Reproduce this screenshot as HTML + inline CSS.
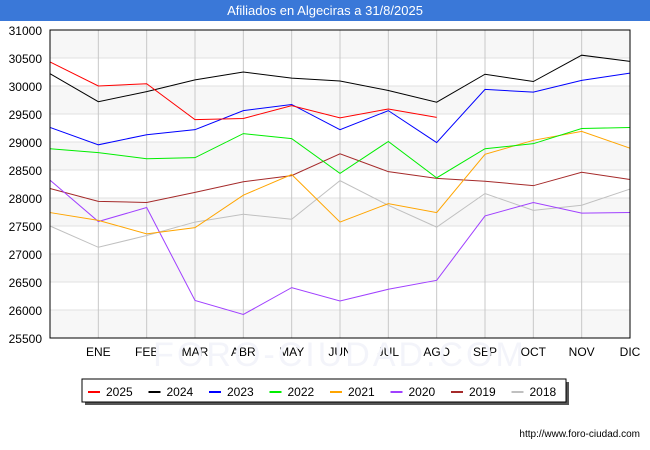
<!DOCTYPE html>
<html><head><meta charset="utf-8"><style>
body{margin:0;background:#fff;font-family:"Liberation Sans",sans-serif;}
#wrap{position:relative;width:650px;height:450px;overflow:hidden;background:#fff;}
</style></head><body>
<div id="wrap">
<svg id="svg" width="650" height="450" xmlns="http://www.w3.org/2000/svg"></svg>
</div>
<script>
const categories=["","ENE","FEB","MAR","ABR","MAY","JUN","JUL","AGO","SEP","OCT","NOV","DIC"];
const yTicks=[25500,26000,26500,27000,27500,28000,28500,29000,29500,30000,30500,31000];
const seriesNames=["2025","2024","2023","2022","2021","2020","2019","2018"];
const seriesColors=["#ff0000","#000000","#0000ff","#00ee00","#ffa500","#a040ff","#a52a2a","#c0c0c0"];
const s2025=[30430,30000,30040,29400,29420,29650,29430,29590,29440];
const s2024=[30220,29720,29900,30110,30250,30140,30090,29920,29710,30210,30080,30550,30440];
const s2023=[29260,28950,29130,29220,29560,29670,29220,29560,28990,29940,29890,30100,30230];
const s2022=[28880,28810,28700,28720,29150,29060,28440,29010,28360,28880,28970,29240,29260];
const s2021=[27740,27600,27360,27470,28050,28420,27570,27900,27740,28780,29030,29190,28890];
const s2020=[28320,27580,27830,26170,25920,26400,26160,26370,26530,27680,27920,27730,27740];
const s2019=[28170,27940,27920,28100,28290,28400,28790,28470,28350,28300,28220,28460,28330];
const s2018=[27500,27120,27330,27570,27710,27620,28310,27870,27480,28080,27780,27870,28160];
const allSeries=[s2025,s2024,s2023,s2022,s2021,s2020,s2019,s2018];
const L=50,R=630,T=30,B=338,yMin=25500,yMax=31000;
const xs=i=>L+i*(R-L)/(categories.length-1);
const ys=v=>B-(v-yMin)/(yMax-yMin)*(B-T);
const svg=document.getElementById('svg');const NS="http://www.w3.org/2000/svg";
function mk(t,a,p){const e=document.createElementNS(NS,t);for(const k in a)e.setAttribute(k,a[k]);(p||svg).appendChild(e);return e;}
let e=mk('rect',{x:0,y:0,width:650,height:21,fill:'#3a78d8'});


e=mk('text',{x:325,y:15,'text-anchor':'middle','font-size':13,fill:'#fff'});e.textContent='Afiliados en Algeciras a 31/8/2025';


for(let i=0;i<yTicks.length-1;i++){if(i%2===0){e=mk('rect',{x:L,y:ys(yTicks[i+1]),width:R-L,height:ys(yTicks[i])-ys(yTicks[i+1]),fill:'#f7f7f7'});

}}
yTicks.forEach(v=>{e=mk('line',{x1:L,x2:R,y1:ys(v),y2:ys(v),stroke:'#e0e0e0'});


e=mk('text',{x:42,y:ys(v)+5,'text-anchor':'end','font-size':12,fill:'#000'});e.textContent=v;

});
categories.forEach((c,i)=>{if(i>0){e=mk('line',{x1:xs(i),x2:xs(i),y1:T,y2:B,stroke:'#c8c8c8'});

}
e=mk('text',{x:xs(i),y:356,'text-anchor':'middle','font-size':12,fill:'#000'});e.textContent=c;

});
e=mk('text',{x:340,y:366,'text-anchor':'middle','font-size':34,fill:'#f3f4fa','letter-spacing':3});e.textContent='FORO-CIUDAD.COM';


for(let s=allSeries.length-1;s>=0;s--){const d=allSeries[s].map((v,i)=>xs(i)+','+ys(v)).join(' ');
e=mk('polyline',{points:d,fill:'none',stroke:seriesColors[s],'stroke-width':1});

}
e=mk('rect',{x:L,y:T,width:R-L,height:B-T,fill:'none',stroke:'#000'});


e=mk('rect',{x:85,y:382,width:484,height:23,fill:'#555'});


e=mk('rect',{x:82,y:379,width:484,height:23,fill:'#fff',stroke:'#000'});


seriesNames.forEach((n,i)=>{const x0=88+i*60.5;
e=mk('line',{x1:x0,x2:x0+12,y1:392,y2:392,stroke:seriesColors[i],'stroke-width':2});


e=mk('text',{x:x0+18,y:396,'font-size':12,fill:'#000'});e.textContent=n;

});
e=mk('text',{x:640,y:437,'text-anchor':'end','font-size':10,fill:'#000'});e.textContent='http://www.foro-ciudad.com';


</script>
</body></html>
